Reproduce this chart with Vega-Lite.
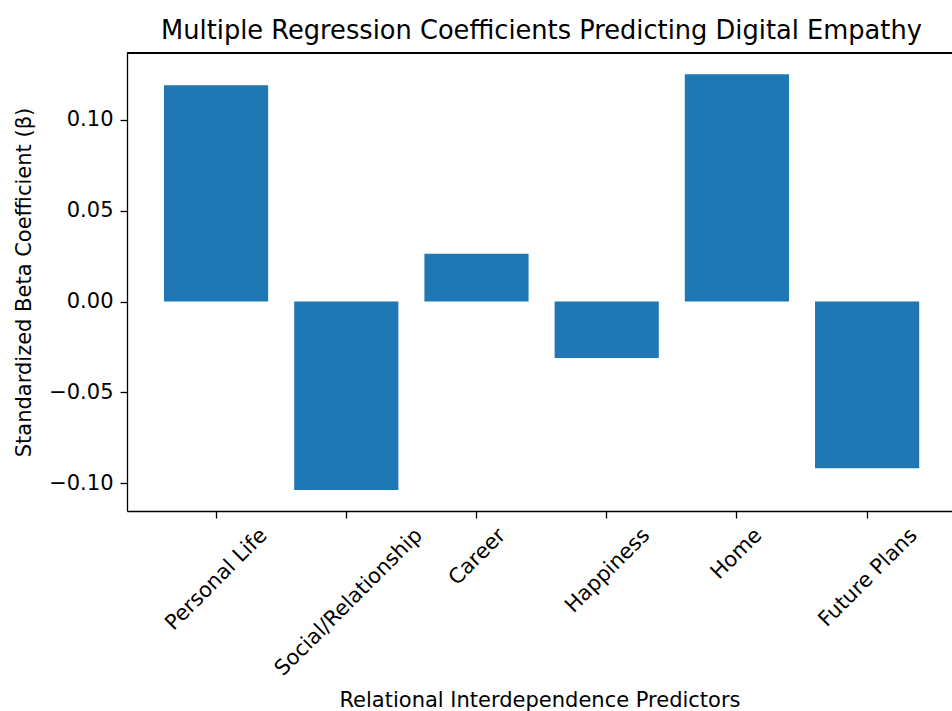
{
  "$schema": "https://vega.github.io/schema/vega-lite/v6.json",
  "autosize": {"type": "none"},
  "padding": {"left": 127, "top": 53, "right": 0, "bottom": 200},
  "width": 825,
  "height": 458,
  "background": "white",
  "config": {
    "view": {"stroke": null},
    "font": "DejaVu Sans",
    "axis": {
      "labelFont": "DejaVu Sans",
      "titleFont": "DejaVu Sans",
      "labelFontSize": 21,
      "titleFontSize": 21,
      "labelColor": "black",
      "titleColor": "black",
      "titleFontWeight": "normal",
      "domainColor": "black",
      "domainWidth": 1.3,
      "tickColor": "black",
      "tickWidth": 1.3,
      "tickSize": 7,
      "grid": false,
      "labelOverlap": false,
      "labelLimit": 0
    }
  },
  "title": {
    "text": "Multiple Regression Coefficients Predicting Digital Empathy",
    "font": "DejaVu Sans",
    "fontSize": 25.7,
    "fontWeight": "normal",
    "color": "black",
    "anchor": "middle",
    "baseline": "bottom",
    "offset": 8,
    "dy": 25,
    "dx": 2
  },
  "data": {
    "values": [
      {"predictor": "Personal Life", "beta": 0.1189},
      {"predictor": "Social/Relationship", "beta": -0.1036},
      {"predictor": "Career", "beta": 0.0263},
      {"predictor": "Happiness", "beta": -0.031},
      {"predictor": "Home", "beta": 0.125},
      {"predictor": "Future Plans", "beta": -0.0917}
    ]
  },
  "layer": [
    {
      "mark": {"type": "bar", "color": "#1f77b4"},
      "encoding": {
        "x": {
          "field": "predictor",
          "type": "nominal",
          "sort": null,
          "scale": {"paddingInner": 0.2, "paddingOuter": 0.268, "align": 0.53},
          "axis": {
            "title": "Relational Interdependence Predictors",
            "labelAngle": -45,
            "labelAlign": "right",
            "labelBaseline": "top",
            "labelPadding": 6,
            "titlePadding": 10,
            "labelOffset": {
              "condition": [
                {"test": "datum.label == 'Personal Life'", "value": 40},
                {"test": "datum.label == 'Social/Relationship'", "value": 65},
                {"test": "datum.label == 'Career'", "value": 18},
                {"test": "datum.label == 'Happiness'", "value": 32},
                {"test": "datum.label == 'Home'", "value": 14}
              ],
              "value": 39
            }
          }
        },
        "y": {
          "field": "beta",
          "type": "quantitative",
          "scale": {"domain": [-0.1152, 0.1367], "nice": false, "zero": false},
          "axis": {
            "title": "Standardized Beta Coefficient (β)",
            "values": [-0.1, -0.05, 0, 0.05, 0.1],
            "format": ".2f",
            "labelPadding": 7,
            "titlePadding": 14
          }
        }
      }
    },
    {
      "mark": {"type": "rule", "color": "black", "strokeWidth": 1.3},
      "encoding": {"y": {"datum": 0.1367}}
    }
  ]
}
